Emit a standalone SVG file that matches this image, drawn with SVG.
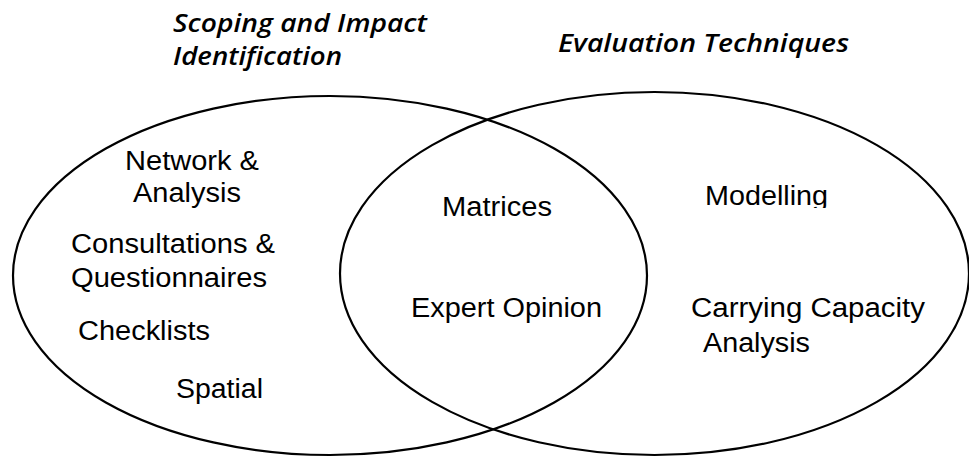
<svg xmlns="http://www.w3.org/2000/svg" width="969" height="457" viewBox="0 0 969 457">
<style>
.set{fill:none;stroke:#000;stroke-width:2.2}
.lbl{font-family:"Liberation Sans",Arial,sans-serif;font-size:27px;fill:#000}
.ttl{font-family:"Open Sans","DejaVu Sans",sans-serif;font-size:25px;font-weight:600;font-style:italic;fill:#000}
</style>
<defs>
<clipPath id="clipM"><rect x="690" y="150" width="160" height="58"/></clipPath>
</defs>
<rect width="969" height="457" fill="#fff"/>
<g id="connectors"></g>
<g id="set-scoping">
<ellipse class="set" cx="330" cy="275.5" rx="317" ry="179.5"/>
<text class="ttl" x="173" y="32" textLength="254" lengthAdjust="spacingAndGlyphs">Scoping and Impact</text>
<text class="ttl" x="173" y="65" textLength="169" lengthAdjust="spacingAndGlyphs">Identification</text>
</g>
<g id="set-evaluation">
<ellipse class="set" cx="654.5" cy="273.5" rx="314.5" ry="181.5"/>
<text class="ttl" x="558" y="52" textLength="291" lengthAdjust="spacingAndGlyphs">Evaluation Techniques</text>
</g>
<g id="item-network"><text class="lbl" x="125" y="170" textLength="134" lengthAdjust="spacingAndGlyphs">Network &amp;</text><text class="lbl" x="133" y="202" textLength="108" lengthAdjust="spacingAndGlyphs">Analysis</text></g>
<g id="item-consultations"><text class="lbl" x="71" y="253" textLength="204" lengthAdjust="spacingAndGlyphs">Consultations &amp;</text><text class="lbl" x="71" y="287" textLength="196" lengthAdjust="spacingAndGlyphs">Questionnaires</text></g>
<g id="item-checklists"><text class="lbl" x="78" y="340" textLength="132" lengthAdjust="spacingAndGlyphs">Checklists</text></g>
<g id="item-spatial"><text class="lbl" x="176" y="398" textLength="87" lengthAdjust="spacingAndGlyphs">Spatial</text></g>
<g id="item-matrices"><text class="lbl" x="442" y="216" textLength="110" lengthAdjust="spacingAndGlyphs">Matrices</text></g>
<g id="item-expert"><text class="lbl" x="411" y="317" textLength="191" lengthAdjust="spacingAndGlyphs">Expert Opinion</text></g>
<g id="item-modelling"><text class="lbl" x="705" y="205" textLength="123" lengthAdjust="spacingAndGlyphs" clip-path="url(#clipM)">Modelling</text></g>
<g id="item-carrying"><text class="lbl" x="691" y="317" textLength="234" lengthAdjust="spacingAndGlyphs">Carrying Capacity</text><text class="lbl" x="703" y="352" textLength="107" lengthAdjust="spacingAndGlyphs">Analysis</text></g>
</svg>
